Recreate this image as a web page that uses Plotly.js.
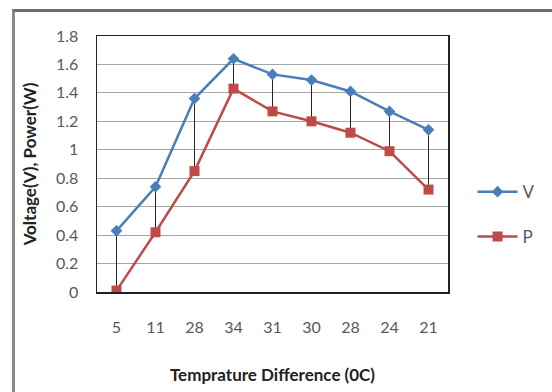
<!DOCTYPE html>
<html>
<head>
<meta charset="utf-8">
<script src="https://cdn.plot.ly/plotly-3.0.1.min.js"></script>
<style>
html,body{margin:0;padding:0;background:#fff;}
#wrap{position:relative;width:552px;height:392px;overflow:hidden;}
#chart{position:absolute;left:0;top:0;width:552px;height:392px;}
#frame{position:absolute;left:12px;top:9px;width:600px;height:500px;border-top:3px solid #6b6b6b;border-left:3px solid #8a8a8a;pointer-events:none;}
</style>
</head>
<body>
<div id="wrap"><div id="chart"></div><div id="frame"></div></div>
<script>
const categories = ["5", "11", "28", "34", "31", "30", "28", "24", "21"];
const voltage = [0.43, 0.74, 1.36, 1.64, 1.53, 1.49, 1.41, 1.27, 1.14];
const power = [0.01, 0.42, 0.85, 1.43, 1.27, 1.20, 1.12, 0.99, 0.72];
const yTicks = [0, 0.2, 0.4, 0.6, 0.8, 1, 1.2, 1.4, 1.6, 1.8];
const yTickLabels = ["0", "0.2", "0.4", "0.6", "0.8", "1", "1.2", "1.4", "1.6", "1.8"];

const idx = categories.map((c, i) => i);
const hlX = [], hlY = [];
idx.forEach(i => { hlX.push(i, i, null); hlY.push(voltage[i], power[i], null); });

const font = "Lato, 'Open Sans', sans-serif";
const traces = [
  {x: hlX, y: hlY, mode: 'lines', line: {color: '#222', width: 1}, showlegend: false, hoverinfo: 'skip'},
  {x: idx, y: voltage, name: 'V', mode: 'lines+markers', line: {color: '#4a7ebb', width: 2.5},
   marker: {symbol: 'diamond', size: 9, color: '#4a7ebb'}, legend: 'legend'},
  {x: idx, y: power, name: 'P', mode: 'lines+markers', line: {color: '#be4b48', width: 2.5},
   marker: {symbol: 'square', size: 10, color: '#be4b48'}, legend: 'legend2'}
];
const layout = {
  width: 552, height: 392,
  margin: {l: 97, r: 93, t: 36, b: 100},
  paper_bgcolor: '#fff', plot_bgcolor: '#fff',
  font: {family: font, color: '#595959', size: 16},
  showlegend: true,
  xaxis: {range: [-0.5, 8.5], tickvals: idx, ticktext: categories, showgrid: false,
    showline: true, mirror: true, linecolor: '#222', linewidth: 1.5, ticks: '', zeroline: false,
    tickfont: {size: 16, color: '#595959'}, ticklabelstandoff: 20,
    title: {text: 'Temprature Difference (0C)', font: {size: 17, color: '#222', weight: 'bold'}, standoff: 34}},
  yaxis: {range: [0, 1.8], tickvals: yTicks, ticktext: yTickLabels, showgrid: true, gridcolor: '#a6a6a6',
    gridwidth: 1, showline: true, mirror: true, linecolor: '#222', linewidth: 1.5, ticks: '', zeroline: false,
    tickfont: {size: 16, color: '#595959'}, ticklabelstandoff: 14,
    title: {text: 'Voltage(V), Power(W)', font: {size: 17, color: '#222', weight: 'bold'}, standoff: 15}},
  legend: {x: 1.07, y: 0.39, xanchor: 'left', yanchor: 'middle', bgcolor: 'rgba(0,0,0,0)',
    font: {size: 17, color: '#595959'}, itemwidth: 40},
  legend2: {x: 1.07, y: 0.215, xanchor: 'left', yanchor: 'middle', bgcolor: 'rgba(0,0,0,0)',
    font: {size: 17, color: '#595959'}, itemwidth: 40}
};
Plotly.newPlot('chart', traces, layout, {displayModeBar: false, staticPlot: true});
</script>
</body>
</html>
